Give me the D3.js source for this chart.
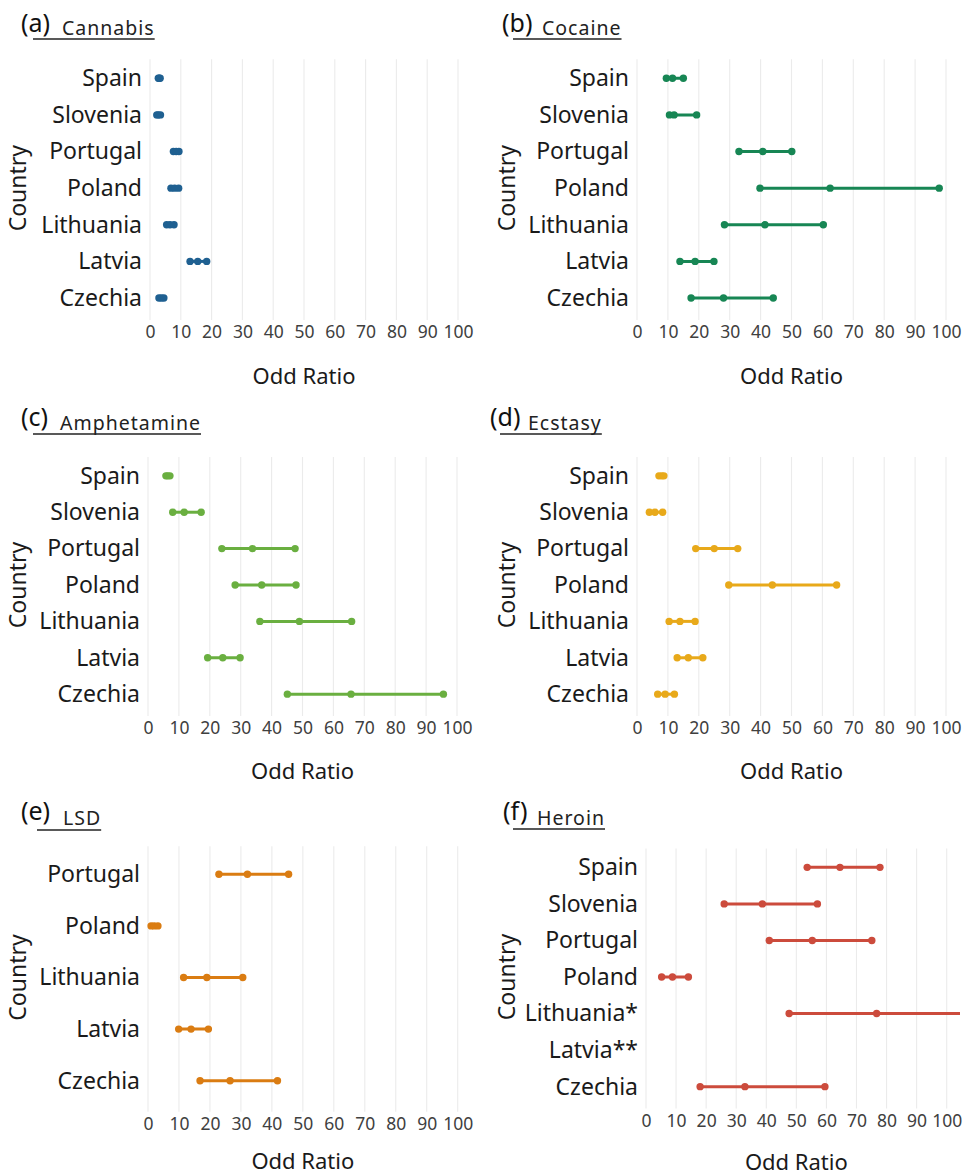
<!DOCTYPE html>
<html><head><meta charset="utf-8">
<script src="https://cdn.jsdelivr.net/npm/d3@7"></script>
<style>
body{margin:0;background:#fff}
svg{display:block}
text{font-family:"Noto Sans",sans-serif}
</style>
</head><body>
<svg id="c" width="968" height="1175"></svg>
<script>
// ---------- DATA ----------
const countriesMain = ["Spain","Slovenia","Portugal","Poland","Lithuania","Latvia","Czechia"];
const countriesLSD = ["Portugal","Poland","Lithuania","Latvia","Czechia"];
const countriesHeroin = ["Spain","Slovenia","Portugal","Poland","Lithuania*","Latvia**","Czechia"];
const xTicks = [0,10,20,30,40,50,60,70,80,90,100];

const cannabisLow  = [2.7, 2.2, 7.6, 6.8, 5.4, 13.0, 2.9];
const cannabisOR   = [3.0, 2.7, 8.5, 8.0, 6.5, 15.5, 3.7];
const cannabisHigh = [3.3, 3.4, 9.4, 9.3, 7.8, 18.4, 4.5];

const cocaineLow  = [9.5, 10.5, 33.0, 39.8, 28.3, 13.9, 17.5];
const cocaineOR   = [11.5, 12.0, 40.7, 62.5, 41.4, 18.8, 28.0];
const cocaineHigh = [15.0, 19.3, 50.1, 97.8, 60.3, 24.9, 44.1];

const amphetamineLow  = [5.8, 8.0, 23.9, 28.2, 36.2, 19.3, 45.1];
const amphetamineOR   = [6.4, 11.7, 33.8, 36.8, 49.0, 24.2, 65.7];
const amphetamineHigh = [7.1, 17.2, 47.6, 47.9, 65.9, 29.8, 95.6];

const ecstasyLow  = [7.1, 4.0, 19.0, 29.7, 10.4, 13.0, 6.7];
const ecstasyOR   = [8.0, 5.8, 25.0, 43.8, 13.9, 16.6, 9.1];
const ecstasyHigh = [8.7, 8.3, 32.6, 64.6, 18.8, 21.3, 12.1];

const lsdLow  = [22.9, 1.0, 11.5, 9.9, 16.8];
const lsdOR   = [32.1, 2.0, 19.0, 13.9, 26.5];
const lsdHigh = [45.4, 3.2, 30.6, 19.5, 41.8];

const heroinLow  = [53.6, 26.0, 41.0, 5.2, 47.6, null, 18.0];
const heroinOR   = [64.5, 38.7, 55.3, 8.8, 76.7, null, 32.9];
const heroinHigh = [77.8, 57.0, 75.1, 14.1, 115.0, null, 59.5];

const panelLetters = ["(a)","(b)","(c)","(d)","(e)","(f)"];
const panelNames = ["Cannabis","Cocaine","Amphetamine","Ecstasy","LSD","Heroin"];
const panelColors = ["#1f6091","#178654","#6aaf40","#e8a91a","#da7c12","#cc4b3c"];

// ---------- LAYOUT ----------
const layout = [
  {x0:150,x100:458,top:56.3,bottom:320,clipR:470,cx:17, title:{lx:21,ly:32,ux:33,nx:62,ny:35,uy:39}, axisTitleY:375},
  {x0:637,x100:946,top:56.3,bottom:320,clipR:962,cx:506,title:{lx:502,ly:32,ux:513,nx:542,ny:35,uy:39}, axisTitleY:375},
  {x0:148,x100:457,top:454,bottom:716,clipR:470,cx:17, title:{lx:21,ly:426,ux:33,nx:60,ny:430,uy:434}, axisTitleY:770},
  {x0:637,x100:946,top:454,bottom:716,clipR:962,cx:506,title:{lx:490,ly:426,ux:500,nx:528,ny:430,uy:434}, axisTitleY:770},
  {x0:148,x100:457.7,top:843.3,bottom:1111.7,clipR:470,cx:17, title:{lx:21,ly:820,ux:37,nx:63,ny:825,uy:830}, axisTitleY:1160},
  {x0:646,x100:946.7,top:845.4,bottom:1108.6,clipR:960,cx:506,title:{lx:503,ly:820,ux:513,nx:537,ny:825,uy:829}, axisTitleY:1161}
];
const panelData = [
  {countries:countriesMain, low:cannabisLow, or:cannabisOR, high:cannabisHigh},
  {countries:countriesMain, low:cocaineLow, or:cocaineOR, high:cocaineHigh},
  {countries:countriesMain, low:amphetamineLow, or:amphetamineOR, high:amphetamineHigh},
  {countries:countriesMain, low:ecstasyLow, or:ecstasyOR, high:ecstasyHigh},
  {countries:countriesLSD, low:lsdLow, or:lsdOR, high:lsdHigh},
  {countries:countriesHeroin, low:heroinLow, or:heroinOR, high:heroinHigh}
];

const svg = d3.select("#c");
const defs = svg.append("defs");

layout.forEach((L, i) => {
  const D = panelData[i];
  const color = panelColors[i];
  const g = svg.append("g");
  const x = d3.scaleLinear().domain([0,100]).range([L.x0, L.x100]);
  const y = d3.scalePoint().domain(D.countries).range([L.top, L.bottom]).padding(0.6);

  // grid
  g.append("g").selectAll("line").data(xTicks).join("line")
    .attr("x1", d => x(d)).attr("x2", d => x(d))
    .attr("y1", L.top + 3).attr("y2", L.bottom)
    .attr("stroke", "#ebebeb").attr("stroke-width", 1.1);

  // x axis
  const xa = g.append("g").attr("transform", `translate(0,${L.bottom})`)
    .call(d3.axisBottom(x).tickValues(xTicks).tickSize(0).tickPadding(6));
  xa.select(".domain").remove();
  xa.selectAll("text").attr("font-family", '"Noto Sans",sans-serif')
    .attr("font-size", 17.5).attr("fill", "#404040");

  // y axis
  const ya = g.append("g").attr("transform", `translate(${L.x0},0)`)
    .call(d3.axisLeft(y).tickSize(0).tickPadding(8));
  ya.select(".domain").remove();
  ya.selectAll("text").attr("font-family", '"Noto Sans",sans-serif')
    .attr("font-size", 23).attr("fill", "#1a1a1a");

  // axis titles
  g.append("text").attr("x", (x(0) + x(100)) / 2).attr("y", L.axisTitleY)
    .attr("text-anchor", "middle").attr("dominant-baseline", "central")
    .attr("font-size", 22).attr("fill", "#1a1a1a").text("Odd Ratio");
  g.append("text")
    .attr("transform", `translate(${L.cx},${(L.top + L.bottom) / 2}) rotate(-90)`)
    .attr("text-anchor", "middle").attr("dominant-baseline", "central")
    .attr("font-size", 23).attr("fill", "#1a1a1a").text("Country");

  // clip
  const cid = "clip" + i;
  defs.append("clipPath").attr("id", cid).append("rect")
    .attr("x", L.x0 - 12).attr("y", L.top).attr("width", L.clipR - L.x0 + 12).attr("height", L.bottom - L.top);

  const rows = D.countries.map((c, k) => ({c, low:D.low[k], or:D.or[k], high:D.high[k]}))
    .filter(r => r.low != null);
  const m = g.append("g").attr("clip-path", `url(#${cid})`);
  m.selectAll("line").data(rows).join("line")
    .attr("x1", d => x(d.low)).attr("x2", d => x(d.high))
    .attr("y1", d => y(d.c)).attr("y2", d => y(d.c))
    .attr("stroke", color).attr("stroke-width", 3);
  const pts = rows.flatMap(r => [{c:r.c,v:r.low},{c:r.c,v:r.or},{c:r.c,v:r.high}]);
  m.selectAll("circle").data(pts).join("circle")
    .attr("cx", d => x(d.v)).attr("cy", d => y(d.c)).attr("r", 3.7)
    .attr("fill", color);

  // panel title
  const T = L.title;
  g.append("text").attr("x", T.lx).attr("y", T.ly)
    .attr("font-family", '"Liberation Sans",Arial,sans-serif')
    .attr("font-size", 25).attr("fill", "#111").text(panelLetters[i]);
  const nm = g.append("text").attr("x", T.nx).attr("y", T.ny)
    .attr("font-size", 19.5).attr("letter-spacing", 1).attr("fill", "#222").text(panelNames[i]);
  const w = nm.node().getComputedTextLength();
  g.append("line").attr("x1", T.ux).attr("x2", T.nx + w)
    .attr("y1", T.uy).attr("y2", T.uy).attr("stroke", "#222").attr("stroke-width", 1.4);
});
</script>
</body></html>
